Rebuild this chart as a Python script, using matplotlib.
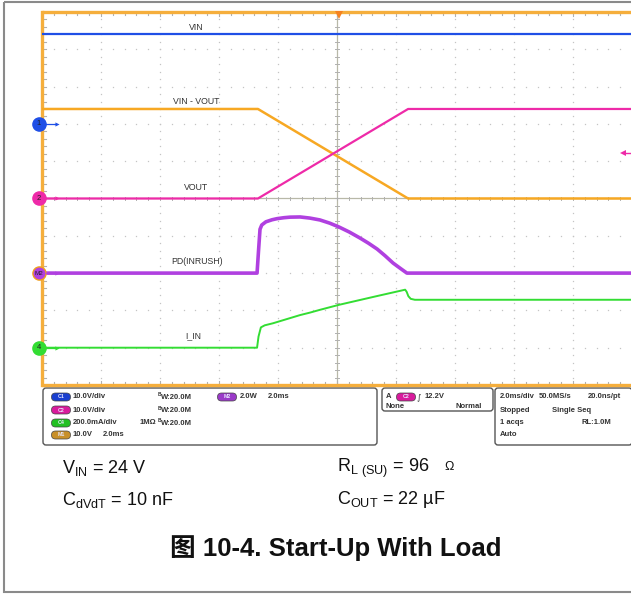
import matplotlib
matplotlib.use("Agg")
import matplotlib.pyplot as plt
import numpy as np
from matplotlib.patches import FancyBboxPatch, Rectangle

plt.rcParams['font.family'] = ['Liberation Sans', 'Noto Sans CJK SC', 'DejaVu Sans']
plt.rcParams['mathtext.fontset'] = 'custom'
plt.rcParams['mathtext.rm'] = 'Liberation Sans'

# scope settings (time in ms, 2 ms/div)
TIME_PER_DIV = 2.0
VOLT_PER_DIV = 10.0    # C1, C2, M1
AMP_PER_DIV = 200.0    # C4, mA
WATT_PER_DIV = 2.0     # M2
# ground positions of each channel, divisions from bottom of screen
ch_names = ['1', '2', 'M2', '4']
ch_offsets = [7.0, 5.0, 3.0, 1.0]
ch_colors = ['#1f4fe6', '#ee2aa8', '#b040e0', '#33dd33']
m1_offset = 5.0
trig_level = 12.2

# traces
vin_t = [-10, 10]
vin_v = [24, 24]

vout_t = [-10, -2.68, 2.41, 10]
vout_v = [0, 0, 24, 24]

vdiff_t = [-10, -2.68, 2.41, 10]
vdiff_v = [24, 24, 0, 0]

pd_t = [-10, -2.71, -2.66, -2.61, -2.55, -2.41, -2.2, -2.03, -1.8, -1.59, -1.25, -0.92,
        -0.58, -0.25, 0.07, 0.42, 0.78, 1.07, 1.36, 1.63, 1.90, 2.15, 2.37, 10]
pd_w = [0, 0, 1.2, 2.35, 2.58, 2.75, 2.86, 2.92, 2.97, 3.0, 3.01, 2.95,
        2.85, 2.68, 2.47, 2.2, 1.88, 1.6, 1.29, 0.93, 0.54, 0.25, 0, 0]

iin_t = [-10, -2.71, -2.66, -2.58, -2.45, -2.17, -1.25, -0.92, -0.58, 0.07, 1.36, 2.31, 2.36, 2.42, 2.5, 2.64, 10]
iin_ma = [0, 0, 60, 109, 120, 131, 175, 188, 203, 230, 277, 311, 300, 276, 262, 257, 257]

fig = plt.figure(figsize=(6.31, 5.94), dpi=100)
bg = fig.add_axes([0, 0, 1, 1])
bg.set_xlim(0, 631)
bg.set_ylim(594, 0)
bg.axis('off')

# outer frame
bg.add_patch(Rectangle((4, 1.5), 700, 590, fill=False, ec='#8a8a8a', lw=1.5))

ax = fig.add_axes([42 / 631, (594 - 385) / 594, 590 / 631, 373 / 594])
ax.set_xlim(-10, 10)
ax.set_ylim(0, 10)
ax.axis('off')
ax.patch.set_visible(False)

# graticule
grid_c = '#c4c4c4'
minor_x = np.arange(-10, 10.01, 0.4)
minor_y = np.arange(0, 10.01, 0.2)
for gx in np.arange(-8, 10, 2):
    if gx == 0:
        continue
    ax.plot(np.full_like(minor_y, gx), minor_y, ls='none', marker='s', ms=0.9, color=grid_c, mew=0)
for gy in np.arange(1, 10, 1):
    if gy == 5:
        continue
    ax.plot(minor_x, np.full_like(minor_x, gy), ls='none', marker='s', ms=0.9, color=grid_c, mew=0)
ax.axvline(0, color='#b8b8a8', lw=0.9, zorder=1)
ax.axhline(5, color='#b8b8a8', lw=0.9, zorder=1)
tick_c = '#b0b0b0'
for tx in minor_x:
    ln = 0.12 if abs(tx - round(tx / 2) * 2) < 1e-6 else 0.08
    ax.plot([tx, tx], [10, 10 - ln], color=tick_c, lw=0.8)
    ax.plot([tx, tx], [0, ln], color=tick_c, lw=0.8)
    ax.plot([tx, tx], [5 - 0.05, 5 + 0.05], color=tick_c, lw=0.7)
for ty in minor_y:
    ax.plot([-10, -9.85], [ty, ty], color=tick_c, lw=0.8)
    ax.plot([-0.08, 0.08], [ty, ty], color=tick_c, lw=0.7)

# orange screen edges
edge_c = '#f5ae3c'
ax.plot([-10, 10.5], [10, 10], color=edge_c, lw=2.4, clip_on=False, solid_capstyle='butt')
ax.plot([-10, 10.5], [0, 0], color=edge_c, lw=2.4, clip_on=False, solid_capstyle='butt')
ax.plot([-10, -10], [0, 10], color=edge_c, lw=2.4, clip_on=False)

# traces
ax.plot(vin_t, np.array(vin_v) / VOLT_PER_DIV + ch_offsets[0], color='#1f4fe6', lw=1.6, zorder=5)
ax.plot(vdiff_t, np.array(vdiff_v) / VOLT_PER_DIV + m1_offset, color='#f7a823', lw=1.8, zorder=5)
ax.plot(vout_t, np.array(vout_v) / VOLT_PER_DIV + ch_offsets[1], color='#ee2aa8', lw=1.6, zorder=6)
ax.plot(pd_t, np.array(pd_w) / WATT_PER_DIV + ch_offsets[2], color='#b040e0', lw=2.6, zorder=5)
ax.plot(iin_t, np.array(iin_ma) / AMP_PER_DIV + ch_offsets[3], color='#33dd33', lw=1.4, zorder=5)

# channel ground markers
for name, off, col in zip(ch_names, ch_offsets, ch_colors):
    ec = '#f0a020' if name == 'M2' else col
    ax.plot([-10.1], [off], marker='o', ms=9.5, mfc=col, mec=ec, mew=1.0, clip_on=False, zorder=8)
    ax.text(-10.1, off, name, ha='center', va='center', fontsize=4.5 if name == 'M2' else 5.5,
            color='#222222', clip_on=False, zorder=9)
    ax.plot([-9.85, -9.55], [off, off], color=col, lw=0.9, clip_on=False, zorder=8)
    ax.plot([-9.5], [off], marker='>', ms=3, color=col, mew=0, clip_on=False, zorder=8)

# trigger position and level markers
ax.plot([0.07], [9.93], marker='v', ms=6, color='#f58220', mew=0, clip_on=False, zorder=9)
trig_y = trig_level / VOLT_PER_DIV + ch_offsets[1]
ax.plot([9.72, 10.2], [trig_y, trig_y], color='#ee2aa8', lw=1.0, clip_on=False, zorder=8)
ax.plot([9.7], [trig_y], marker='<', ms=4, color='#ee2aa8', mew=0, clip_on=False, zorder=8)

# trace labels
lab_kw = dict(ha='center', va='center', fontsize=6.3, color='#333333')
bg.text(196, 27, 'VIN', **lab_kw)
bg.text(196, 101, 'VIN - VOUT', **lab_kw)
bg.text(196, 188, 'VOUT', **lab_kw)
bg.text(197, 261, 'PD(INRUSH)', **lab_kw)
bg.text(193, 336, 'I_IN', **lab_kw)

# info panel
def box(x0, y0, x1, y1):
    bg.add_patch(FancyBboxPatch((x0, y0), x1 - x0, y1 - y0,
                                boxstyle='round,pad=0,rounding_size=3',
                                fc='white', ec='#555555', lw=1.0))

def pill(cx, cy, col, label):
    bg.add_patch(FancyBboxPatch((cx - 9.5, cy - 4), 19, 8,
                                boxstyle='round,pad=0,rounding_size=4',
                                fc=col, ec='#444444', lw=0.5))
    bg.text(cx, cy, label, ha='center', va='center', fontsize=3.8, color='#e8e8ff', fontweight='bold')

def info(x, y, s, ha='left'):
    bg.text(x, y, s, ha=ha, va='center', fontsize=5.5, fontweight='bold', color='#333333')

def bw(x, y):
    bg.text(x, y - 2, 'B', ha='left', va='center', fontsize=3.5, fontweight='bold', color='#333333')
    info(x + 2.5, y + 0.5, 'W:20.0M')

box(43, 388, 377, 445)
box(382, 388, 493, 411)
box(495, 388, 632, 445)

rows = [397, 410, 423, 435]
pill(61, rows[0], '#1a3fd0', 'C1')
info(73, rows[0], '10.0V/div')
bw(158, rows[0])
pill(227, rows[0], '#9a3ac8', 'M2')
info(240, rows[0], '2.0W')
info(268, rows[0], '2.0ms')
pill(61, rows[1], '#d81b9c', 'C2')
info(73, rows[1], '10.0V/div')
bw(158, rows[1])
pill(61, rows[2], '#22c022', 'C4')
info(73, rows[2], '200.0mA/div')
info(140, rows[2], '1MΩ')
bw(158, rows[2])
pill(61, rows[3], '#c8902a', 'M1')
info(73, rows[3], '10.0V')
info(103, rows[3], '2.0ms')

info(386, 397, 'A')
pill(406, 397, '#d81b9c', 'C2')
bg.text(419, 397, '∫', ha='center', va='center', fontsize=6, color='#333333', family='DejaVu Sans')
info(425, 397, '12.2V')
info(386, 407, 'None')
info(455, 407, 'Normal')

info(500, rows[0], '2.0ms/div')
info(539, rows[0], '50.0MS/s')
info(588, rows[0], '20.0ns/pt')
info(500, rows[1], 'Stopped')
info(552, rows[1], 'Single Seq')
info(500, rows[2], '1 acqs')
info(582, rows[2], 'RL:1.0M')
info(500, rows[3], 'Auto')

# test conditions and caption
cond_kw = dict(ha='left', va='center', fontsize=13, color='#111111')
bg.text(62, 468, r'$\mathregular{V_{IN}}$ = 24 V', **cond_kw)
bg.text(337, 468, r'$\mathregular{R_{L\ (SU)}}$ = 96', **cond_kw)
bg.text(444, 467, 'Ω', ha='left', va='center', fontsize=9, color='#111111')
bg.text(62, 500, r'$\mathregular{C_{dVdT}}$ = 10 nF', **cond_kw)
bg.text(337, 500, r'$\mathregular{C_{OUT}}$ = 22 µF', **cond_kw)
bg.text(336, 548, '图 10-4. Start-Up With Load', ha='center', va='center',
        fontsize=18.5, fontweight='bold', color='#111111')

fig.savefig('out.png', dpi=100)
